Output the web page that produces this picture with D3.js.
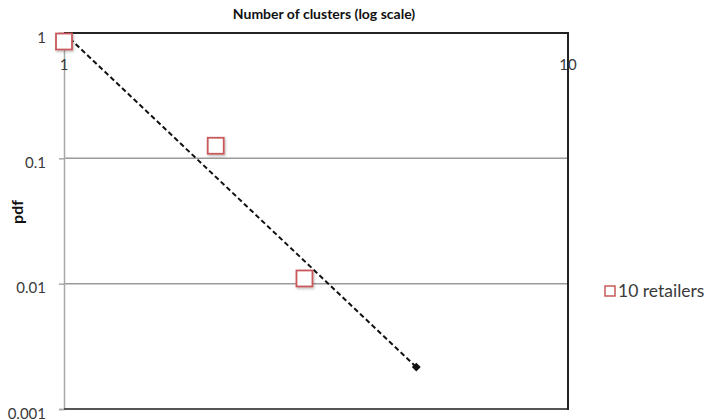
<!DOCTYPE html>
<html>
<head>
<meta charset="utf-8">
<script src="https://cdn.jsdelivr.net/npm/d3@7"></script>
<style>
  html, body { margin: 0; padding: 0; background: #fff; }
  svg { display: block; font-family: Lato, "Open Sans", sans-serif; }
</style>
</head>
<body>
<svg id="chart" width="706" height="420"></svg>
<script>
// Observed cluster-size distribution (10 retailers)
const clusterCounts = [1, 2, 3];
const pdfValues = [0.855, 0.126, 0.011];

// Power-law trend line endpoints
const trendX = [1, 5];
const trendY = [1, 0.00216];

// Axis ticks
const xTicks = [1, 10];
const yTicks = [1, 0.1, 0.01, 0.001];
const yTickLabels = ["1", "0.1", "0.01", "0.001"];

const seriesName = "10 retailers";
const titleText = "Number of clusters (log scale)";
const yTitle = "pdf";

const svg = d3.select("#chart");
const plot = { left: 64, right: 568, top: 33, bottom: 409 };

const x = d3.scaleLog().domain([1, 10]).range([plot.left, plot.right]);
const y = d3.scaleLog().domain([0.001, 1]).range([plot.bottom, plot.top]);

// Horizontal gridlines
svg.append("g")
  .selectAll("line")
  .data(yTicks.filter(v => v < 1 && v > 0.001))
  .join("line")
  .attr("x1", plot.left).attr("x2", plot.right)
  .attr("y1", d => y(d)).attr("y2", d => y(d))
  .attr("stroke", "#9a9a9a").attr("stroke-width", 1.5);

// Left value axis (gray) with outward ticks
const yAxis = d3.axisLeft(y)
  .tickValues(yTicks)
  .tickFormat((d, i) => yTickLabels[i])
  .tickSize(5)
  .tickPadding(13);
const gy = svg.append("g").attr("transform", `translate(${plot.left},0)`).call(yAxis);
gy.select(".domain").attr("stroke", "#a8a8a8").attr("stroke-width", 1.5);
gy.selectAll(".tick line").attr("stroke", "#a8a8a8").attr("stroke-width", 1.5);
gy.selectAll(".tick text")
  .attr("fill", "#3a3a3a")
  .attr("dy", "0.6em")
  .style("font-size", "15px")
  .style("font-family", "Lato, sans-serif");

// Bottom border
svg.append("line")
  .attr("x1", plot.left).attr("x2", plot.right)
  .attr("y1", plot.bottom).attr("y2", plot.bottom)
  .attr("stroke", "#555").attr("stroke-width", 2);

// Top category axis and right border (black)
svg.append("line")
  .attr("x1", plot.left).attr("x2", plot.right)
  .attr("y1", plot.top).attr("y2", plot.top)
  .attr("stroke", "#222").attr("stroke-width", 2);
svg.append("line")
  .attr("x1", plot.right).attr("x2", plot.right)
  .attr("y1", plot.top - 1).attr("y2", plot.bottom + 1)
  .attr("stroke", "#222").attr("stroke-width", 2);

// X tick labels sit just below the top axis
svg.append("g")
  .selectAll("text")
  .data(xTicks)
  .join("text")
  .attr("x", d => x(d))
  .attr("y", plot.top + 37)
  .attr("text-anchor", "middle")
  .attr("fill", "#3a3a3a")
  .style("font-size", "15px")
  .text(d => d);

// Trend line
const line = d3.line().x(d => x(d[0])).y(d => y(d[1]));
const trend = d3.zip(trendX, trendY);
svg.append("path")
  .attr("d", line(trend))
  .attr("fill", "none")
  .attr("stroke", "#111")
  .attr("stroke-width", 2)
  .attr("stroke-dasharray", "5,3");

// Diamond at the end of the trend line
svg.append("path")
  .attr("d", d3.symbol(d3.symbolDiamond2, 50)())
  .attr("transform", `translate(${x(trendX[1])},${y(trendY[1])})`)
  .attr("fill", "#111");

// Soft shadow for square markers
const defs = svg.append("defs");
const f = defs.append("filter").attr("id", "shadow")
  .attr("x", "-30%").attr("y", "-30%").attr("width", "160%").attr("height", "160%");
f.append("feDropShadow")
  .attr("dx", 1).attr("dy", 1.5).attr("stdDeviation", 1.2)
  .attr("flood-color", "#000").attr("flood-opacity", 0.25);

const mSize = 16;
svg.append("g")
  .selectAll("rect")
  .data(d3.zip(clusterCounts, pdfValues))
  .join("rect")
  .attr("x", d => x(d[0]) - mSize / 2)
  .attr("y", d => y(d[1]) - mSize / 2)
  .attr("width", mSize).attr("height", mSize)
  .attr("fill", "#fff")
  .attr("stroke", "#c8595a")
  .attr("stroke-width", 1.8)
  .attr("filter", "url(#shadow)");

// Title
svg.append("text")
  .attr("x", 324).attr("y", 19)
  .attr("text-anchor", "middle")
  .style("font-size", "14px")
  .style("font-weight", "bold")
  .attr("fill", "#111")
  .text(titleText);

// Y-axis title
svg.append("text")
  .attr("transform", "translate(23,212) rotate(-90)")
  .attr("text-anchor", "middle")
  .style("font-size", "16px")
  .style("font-weight", "bold")
  .attr("fill", "#111")
  .text(yTitle);

// Legend
const lg = svg.append("g").attr("transform", "translate(605,286)");
lg.append("rect")
  .attr("x", 0).attr("y", 0).attr("width", 10).attr("height", 10)
  .attr("fill", "#fff").attr("stroke", "#c8595a").attr("stroke-width", 1.5);
lg.append("text")
  .attr("x", 13).attr("y", 11)
  .style("font-size", "17.5px")
  .attr("fill", "#3a3a3a")
  .text(seriesName);
</script>
</body>
</html>
